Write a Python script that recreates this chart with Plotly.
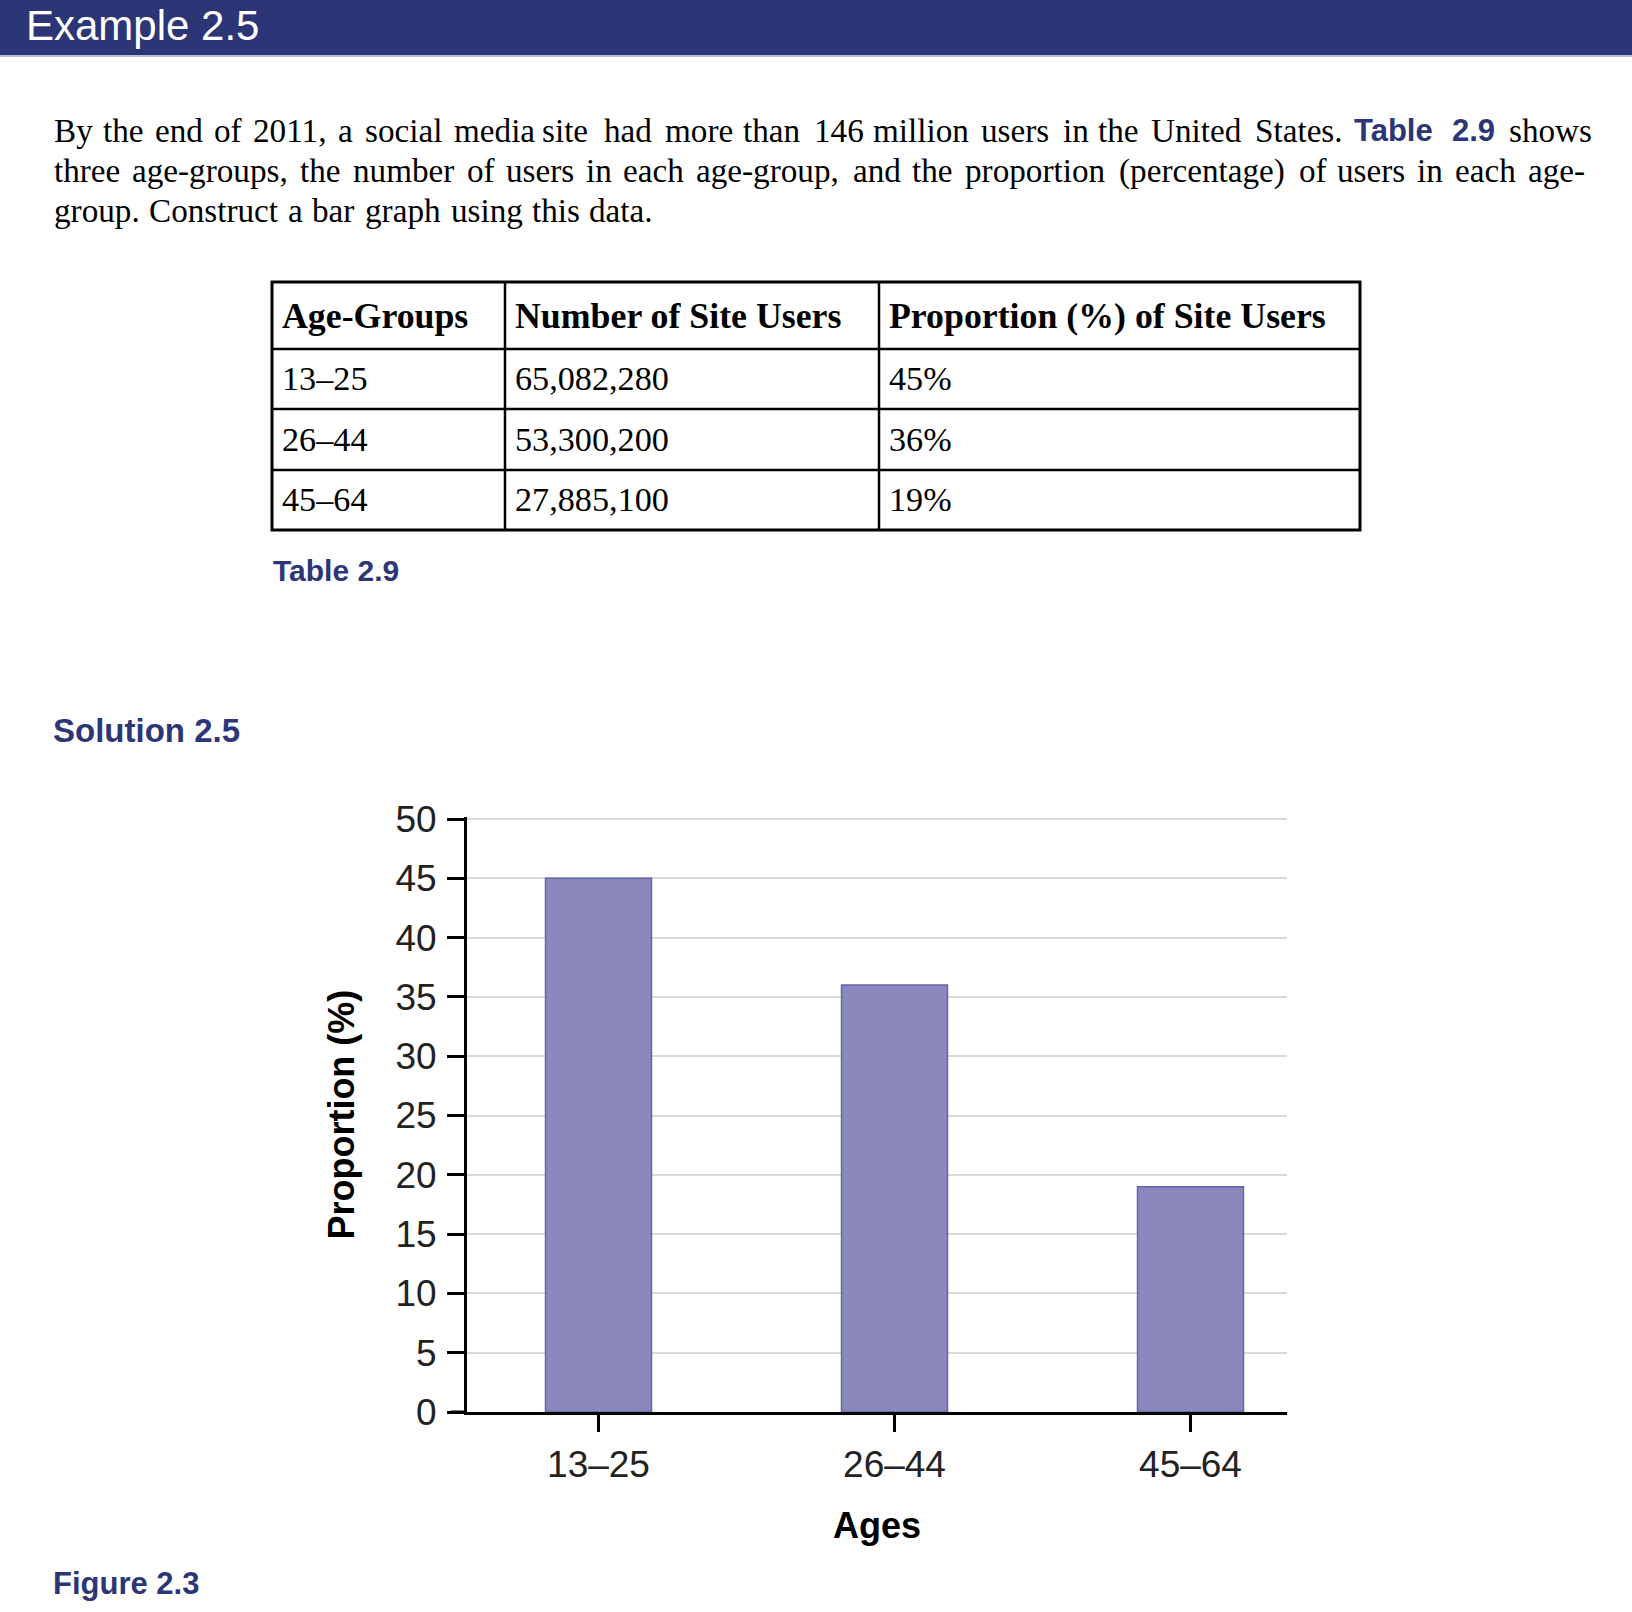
import plotly.graph_objects as go

# ---------------- data ----------------
age_groups = ["13–25", "26–44", "45–64"]
site_users = ["65,082,280", "53,300,200", "27,885,100"]
proportions = [45, 36, 19]
prop_labels = ["45%", "36%", "19%"]
table_headers = ["Age-Groups", "Number of Site Users", "Proportion (%) of Site Users"]
y_ticks = [0, 5, 10, 15, 20, 25, 30, 35, 40, 45, 50]

title_text = "Example 2.5"
para_lines = [
    ["By", "the", "end", "of", "2011,", "a", "social", "media", "site", "had", "more", "than",
     "146", "million", "users", "in", "the", "United", "States.", "Table", "2.9", "shows"],
    ["three", "age-groups,", "the", "number", "of", "users", "in", "each", "age-group,", "and",
     "the", "proportion", "(percentage)", "of", "users", "in", "each", "age-"],
    ["group.", "Construct", "a", "bar", "graph", "using", "this", "data."],
]
para_links = {(0, 19), (0, 20)}  # "Table 2.9" link words
table_caption = "Table 2.9"
solution_caption = "Solution 2.5"
figure_caption = "Figure 2.3"
x_title = "Ages"
y_title = "Proportion (%)"

# ---------------- layout (pixel positions) ----------------
W, H = 1632, 1612
def X(p): return p / W
def Y(p): return 1 - p / H

NAVY = "#2c3677"
word_x = [
    [51, 100, 152, 211, 250, 335, 362, 451, 539, 601, 662, 740, 811, 870, 978, 1060, 1095, 1148, 1252, 1351, 1449, 1506],
    [51, 129, 297, 350, 464, 503, 583, 620, 693, 850, 909, 962, 1116, 1296, 1334, 1414, 1452, 1525],
    [51, 146, 285, 309, 362, 448, 529, 586],
]
line_y = [130, 170.6, 211]

annotations = []
annotations.append(dict(text=title_text, x=X(24), y=1, xref="paper", yref="paper",
                        xanchor="left", yanchor="top", showarrow=False,
                        font=dict(family="Liberation Sans", size=42, color="white")))
for li, words in enumerate(para_lines):
    for wi, w in enumerate(words):
        link = (li, wi) in para_links
        annotations.append(dict(
            text=w, x=X(word_x[li][wi] + 1), y=Y(line_y[li]), xref="paper", yref="paper",
            xanchor="left", yanchor="middle", showarrow=False,
            font=dict(family="Liberation Sans" if link else "Liberation Serif",
                      size=31 if link else 33.2, color=NAVY if link else "black",
                      weight="bold" if link else "normal")))

# table
tbl_left, tbl_right, tbl_top, tbl_bottom = 272, 1360, 282, 530
col_x = [272, 505, 879, 1360]
row_y = [282, 349, 409, 470, 530]
shapes = [
    dict(type="rect", xref="paper", yref="paper", x0=0, x1=1, y0=Y(55), y1=1,
         fillcolor=NAVY, line=dict(width=0), layer="below"),
    dict(type="line", xref="paper", yref="paper", x0=0, x1=1, y0=Y(56), y1=Y(56),
         line=dict(color="#a3a9cc", width=1.5)),
    dict(type="rect", xref="paper", yref="paper", x0=X(tbl_left), x1=X(tbl_right),
         y0=Y(tbl_bottom), y1=Y(tbl_top), line=dict(color="black", width=3)),
]
for cx in col_x[1:-1]:
    shapes.append(dict(type="line", xref="paper", yref="paper", x0=X(cx), x1=X(cx),
                       y0=Y(tbl_bottom), y1=Y(tbl_top), line=dict(color="black", width=2.5)))
for ry in row_y[1:-1]:
    shapes.append(dict(type="line", xref="paper", yref="paper", x0=X(tbl_left), x1=X(tbl_right),
                       y0=Y(ry), y1=Y(ry), line=dict(color="black", width=2.5)))

cell_pad = 8
for ci, htxt in enumerate(table_headers):
    annotations.append(dict(text=htxt, x=X(col_x[ci] + cell_pad), y=Y((row_y[0] + row_y[1]) / 2),
                            xref="paper", yref="paper", xanchor="left", yanchor="middle",
                            showarrow=False,
                            font=dict(family="Liberation Serif", size=35.8, color="black", weight="bold")))
columns = [age_groups, site_users, prop_labels]
for ci, col in enumerate(columns):
    for ri, val in enumerate(col):
        annotations.append(dict(text=val, x=X(col_x[ci] + cell_pad), y=Y((row_y[ri + 1] + row_y[ri + 2]) / 2),
                                xref="paper", yref="paper", xanchor="left", yanchor="middle",
                                showarrow=False,
                                font=dict(family="Liberation Serif", size=34.2, color="black")))

for txt, px_, py_, sz in [(table_caption, 271, 570, 30), (solution_caption, 51, 730, 33),
                          (figure_caption, 51, 1583, 31)]:
    annotations.append(dict(text=txt, x=X(px_), y=Y(py_), xref="paper", yref="paper",
                            xanchor="left", yanchor="middle", showarrow=False,
                            font=dict(family="Liberation Sans", size=sz, color=NAVY, weight="bold")))

# ---------------- chart ----------------
fig = go.Figure()
fig.add_trace(go.Bar(
    x=age_groups, y=proportions, width=0.358,
    marker=dict(color="#8a88bc", line=dict(color="#6463aa", width=1.5)),
    hoverinfo="skip",
))

x_left, x_right = 467, 1287
stub_left = 451
cat_c0, cat_step = 598.5, 296
y_bot = 1412
px_per_unit = 11.86
y_max = 50.15
y_top = y_bot - y_max * px_per_unit

# short extension of the x axis line under the y tick marks
shapes.append(dict(type="line", xref="paper", yref="paper", x0=X(stub_left), x1=X(x_left),
                   y0=Y(y_bot), y1=Y(y_bot), line=dict(color="black", width=3)))

fig.update_layout(
    width=W, height=H,
    margin=dict(l=0, r=0, t=0, b=0),
    paper_bgcolor="white", plot_bgcolor="rgba(0,0,0,0)",
    showlegend=False,
    annotations=annotations, shapes=shapes,
    xaxis=dict(
        domain=[X(x_left), X(x_right)],
        range=[(x_left - cat_c0) / cat_step, (x_right - cat_c0) / cat_step],
        type="category", categoryorder="array", categoryarray=age_groups,
        showline=True, linecolor="black", linewidth=3,
        ticks="outside", ticklen=17, tickwidth=3, tickcolor="black",
        ticklabelstandoff=1,
        tickfont=dict(family="Liberation Sans", size=37, color="#222222"),
        showgrid=False, zeroline=False, automargin=False,
        title=dict(text=x_title, standoff=29,
                   font=dict(family="Liberation Sans", size=36, color="black", weight="bold")),
    ),
    yaxis=dict(
        domain=[Y(y_bot), Y(y_top)],
        range=[0, y_max], tickvals=y_ticks,
        showline=True, linecolor="black", linewidth=3,
        ticks="outside", ticklen=17, tickwidth=3, tickcolor="black",
        ticklabelstandoff=3,
        tickfont=dict(family="Liberation Sans", size=37, color="#222222"),
        showgrid=True, gridcolor="#d9d9d9", gridwidth=2,
        zeroline=False, automargin=False,
        title=dict(text=y_title, standoff=30,
                   font=dict(family="Liberation Sans", size=36, color="black", weight="bold")),
    ),
)

fig.write_html("out.html")
